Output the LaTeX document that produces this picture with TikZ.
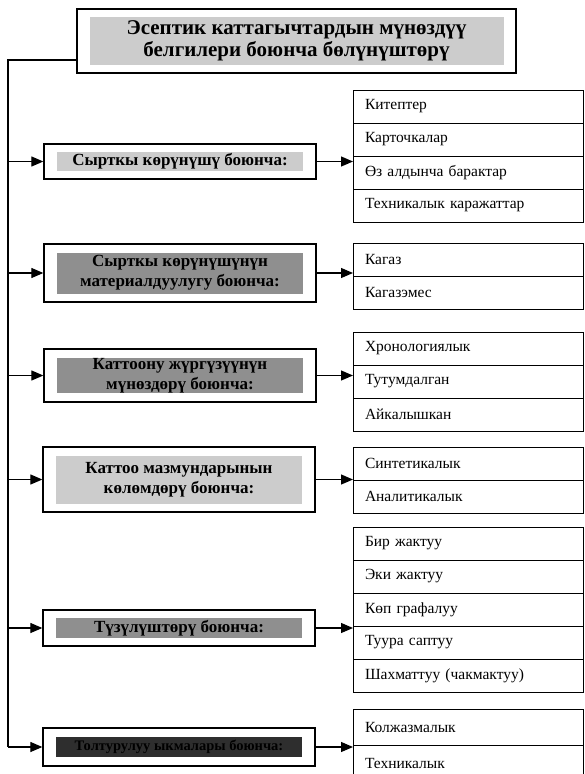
\documentclass[tikz,border=0pt]{standalone}
\usepackage{fontspec}
\setmainfont{Liberation Serif}
\usetikzlibrary{positioning,arrows.meta}
\definecolor{lightshade}{gray}{0.80}
\definecolor{midshade}{gray}{0.56}
\definecolor{darkshade}{gray}{0.18}
\tikzset{
    outer-box/.style = {draw=black, fill=white, line width=1.3pt, rectangle, minimum width=272pt, inner sep=0pt},
    inner-fill/.style = {fill=#1, rectangle, minimum width=246pt, inner sep=0pt, align=center, font=\fontsize{17}{20}\selectfont\bfseries},
    title-fill/.style = {fill=lightshade, rectangle, minimum width=414pt, minimum height=48pt, inner sep=0pt, align=center, font=\fontsize{21}{22}\selectfont\bfseries},
    leaf-row/.style = {draw=black, line width=1pt, rectangle, minimum width=230pt, minimum height=33pt, text width=206pt, inner xsep=12pt, inner ysep=0pt, outer sep=0pt, align=left, font=\fontsize{15.5}{17}\selectfont},
    link/.style = {line width=1.2pt, -{Triangle[length=12pt,width=10pt]}},
}
\begin{document}
\begin{tikzpicture}[x=1pt,y=-1pt]
\useasboundingbox (0,0) rectangle (584,774);
\clip (0,0) rectangle (584,774);

% title
\node[outer-box, minimum width=439pt, minimum height=64pt] (title) at (296.5,41) {};
\node[title-fill] (title-text) at (title.center) {Эсептик каттагычтардын мүнөздүү\\белгилери боюнча бөлүнүштөрү};

% groups
\node[outer-box, minimum height=35pt] (b1) at (180,161.5) {};
\node[inner-fill=lightshade, minimum height=19pt] (b1-text) at (b1.center) {Сырткы көрүнүшү боюнча:};
\node[outer-box, minimum height=58pt] (b2) at (180,273) {};
\node[inner-fill=midshade, minimum height=41pt] (b2-text) at (b2.center) {Сырткы көрүнүшүнүн\\материалдуулугу боюнча:};
\node[outer-box, minimum height=53pt] (b3) at (180,375.5) {};
\node[inner-fill=midshade, minimum height=35pt] (b3-text) at (b3.center) {Каттоону жүргүзүүнүн\\мүнөздөрү боюнча:};
\node[outer-box, minimum height=65pt] (b4) at (179,479.5) {};
\node[inner-fill=lightshade, minimum height=48pt] (b4-text) at (b4.center) {Каттоо мазмундарынын\\көлөмдөрү боюнча:};
\node[outer-box, minimum height=36pt] (b5) at (179,628) {};
\node[inner-fill=midshade, minimum height=20pt] (b5-text) at (b5.center) {Түзүлүштөрү боюнча:};
\node[outer-box, minimum height=38pt] (b6) at (179,747) {};
\node[inner-fill=darkshade, minimum height=20pt, font=\fontsize{14.5}{17}\selectfont\bfseries] (b6-text) at (b6.center) {Толтурулуу ыкмалары боюнча:};

% leaves
\node[leaf-row] (l1-a) at (468,106.5) {Китептер};
\node[leaf-row, below=0pt of l1-a] (l1-b) {Карточкалар};
\node[leaf-row, below=0pt of l1-b] (l1-c) {Өз алдынча барактар};
\node[leaf-row, below=0pt of l1-c] (l1-d) {Техникалык каражаттар};

\node[leaf-row] (l2-a) at (468,259.5) {Кагаз};
\node[leaf-row, below=0pt of l2-a] (l2-b) {Кагазэмес};

\node[leaf-row] (l3-a) at (468,348.5) {Хронологиялык};
\node[leaf-row, below=0pt of l3-a] (l3-b) {Тутумдалган};
\node[leaf-row, below=0pt of l3-b] (l3-c) {Айкалышкан};

\node[leaf-row] (l4-a) at (468,463.5) {Синтетикалык};
\node[leaf-row, below=0pt of l4-a] (l4-b) {Аналитикалык};

\node[leaf-row] (l5-a) at (468,543.5) {Бир жактуу};
\node[leaf-row, below=0pt of l5-a] (l5-b) {Эки жактуу};
\node[leaf-row, below=0pt of l5-b] (l5-c) {Көп графалуу};
\node[leaf-row, below=0pt of l5-c] (l5-d) {Туура саптуу};
\node[leaf-row, below=0pt of l5-d] (l5-e) {Шахматтуу (чакмактуу)};

\node[leaf-row, minimum height=36pt] (l6-a) at (468,727) {Колжазмалык};
\node[leaf-row, minimum height=36pt, below=0pt of l6-a] (l6-b) {Техникалык};

% connectors
\coordinate (bus-end) at (8,747);
\draw[line width=1.2pt] ([yshift=-19pt]title.west) -| (bus-end);
\draw[link] (bus-end |- b1.west) -- (b1.west);
\draw[link] (bus-end |- b2.west) -- (b2.west);
\draw[link] (bus-end |- b3.west) -- (b3.west);
\draw[link] (bus-end |- b4.west) -- (b4.west);
\draw[link] (bus-end |- b5.west) -- (b5.west);
\draw[link] (bus-end) -- (b6.west);

\draw[link] (b1.east) -- (b1.east -| l1-a.west);
\draw[link] (b2.east) -- (b2.east -| l2-a.west);
\draw[link] (b3.east) -- (b3.east -| l3-a.west);
\draw[link] (b4.east) -- (b4.east -| l4-a.west);
\draw[link] (b5.east) -- (b5.east -| l5-a.west);
\draw[link] (b6.east) -- (b6.east -| l6-a.west);
\end{tikzpicture}
\end{document}
